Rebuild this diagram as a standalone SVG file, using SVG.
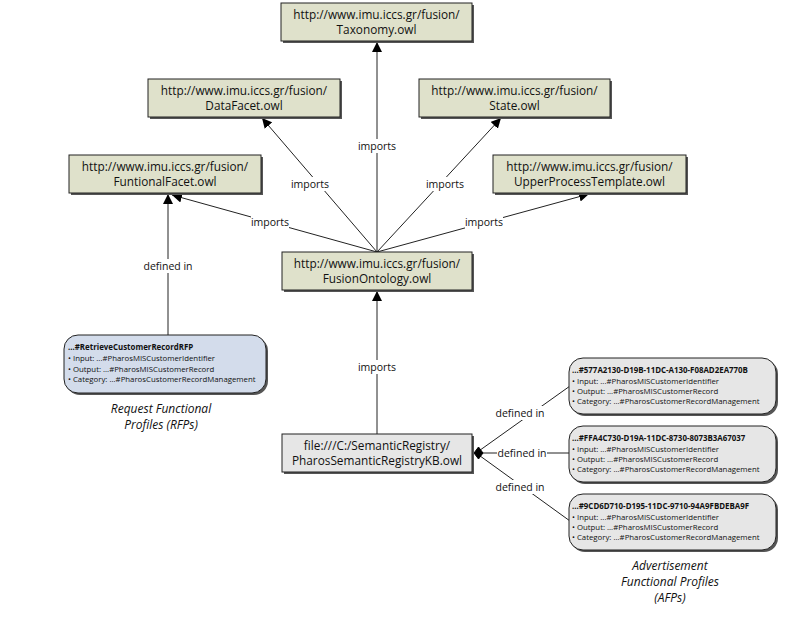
<svg xmlns="http://www.w3.org/2000/svg" width="786" height="617" viewBox="0 0 786 617">
<defs>
<style>
.bx{fill:#dfe1cb;stroke:#222;stroke-width:1}
.gx{fill:#e6e6e6;stroke:#222;stroke-width:1}
.sh{fill:#555}
.t{font-family:"Open Sans","Noto Sans",sans-serif;font-size:11.8px;fill:#111;text-anchor:middle}
.l{font-family:"Open Sans","Noto Sans",sans-serif;font-size:10.5px;fill:#111;text-anchor:middle}
.lb{fill:#fff}
.c{stroke:#222;stroke-width:1;fill:none}
.pt{font-family:"Open Sans","Noto Sans",sans-serif;font-size:7.9px;font-weight:bold;fill:#111}
.pi{font-family:"Open Sans","Noto Sans",sans-serif;font-size:7.8px;fill:#111}
.it{font-family:"Open Sans","Noto Sans",sans-serif;font-size:12px;font-style:italic;fill:#111;text-anchor:middle}
</style>
<marker id="ar" viewBox="0 0 10 10" refX="10" refY="5" markerWidth="10" markerHeight="10" markerUnits="userSpaceOnUse" orient="auto"><path d="M0,0 L10,5 L0,10 z" fill="#000"/></marker>
</defs>
<rect width="786" height="617" fill="#fff"/>
<g id="connectors">
<line class="c" x1="377" y1="252" x2="377" y2="42" marker-end="url(#ar)"/>
<line class="c" x1="377" y1="252" x2="262" y2="118" marker-end="url(#ar)"/>
<line class="c" x1="377" y1="252" x2="501" y2="118" marker-end="url(#ar)"/>
<line class="c" x1="377" y1="252" x2="172" y2="195" marker-end="url(#ar)"/>
<line class="c" x1="377" y1="252" x2="589" y2="194" marker-end="url(#ar)"/>
<line class="c" x1="377" y1="434" x2="377" y2="291" marker-end="url(#ar)"/>
<line class="c" x1="168" y1="335" x2="168" y2="194" marker-end="url(#ar)"/>
<line class="c" x1="476" y1="453" x2="570" y2="386"/>
<line class="c" x1="476" y1="453" x2="570" y2="453"/>
<line class="c" x1="476" y1="453" x2="570" y2="521"/>
<path d="M474,453 L478.5,447 L483,453 L478.5,459 z" fill="#000" stroke="#000"/>
<rect class="lb" x="358" y="139" width="38" height="14"/><text class="l" x="377" y="150">imports</text>
<rect class="lb" x="291" y="177" width="38" height="14"/><text class="l" x="310" y="188">imports</text>
<rect class="lb" x="426" y="177" width="38" height="14"/><text class="l" x="445" y="188">imports</text>
<rect class="lb" x="251" y="215" width="38" height="14"/><text class="l" x="270" y="226">imports</text>
<rect class="lb" x="465" y="215" width="38" height="14"/><text class="l" x="484" y="226">imports</text>
<rect class="lb" x="358" y="360" width="38" height="14"/><text class="l" x="377" y="371">imports</text>
<rect class="lb" x="143" y="259" width="50" height="14"/><text class="l" x="168" y="270">defined in</text>
<rect class="lb" x="495" y="406" width="50" height="14"/><text class="l" x="520" y="417">defined in</text>
<rect class="lb" x="497" y="446" width="50" height="14"/><text class="l" x="522" y="457">defined in</text>
<rect class="lb" x="495" y="480" width="50" height="14"/><text class="l" x="520" y="491">defined in</text>
</g>
<g id="taxonomy"><rect class="sh" x="283" y="5" width="191" height="38"/><rect class="bx" x="281" y="3" width="191" height="38"/><text class="t" x="376.5" y="19">http://www.imu.iccs.gr/fusion/</text><text class="t" x="376.5" y="34">Taxonomy.owl</text></g>
<g id="datafacet"><rect class="sh" x="150" y="81" width="192" height="38"/><rect class="bx" x="148" y="79" width="192" height="38"/><text class="t" x="244" y="95">http://www.imu.iccs.gr/fusion/</text><text class="t" x="244" y="110">DataFacet.owl</text></g>
<g id="state"><rect class="sh" x="421" y="81" width="191" height="38"/><rect class="bx" x="419" y="79" width="191" height="38"/><text class="t" x="514.5" y="95">http://www.imu.iccs.gr/fusion/</text><text class="t" x="514.5" y="110">State.owl</text></g>
<g id="functionalfacet"><rect class="sh" x="71" y="157" width="192" height="38"/><rect class="bx" x="69" y="155" width="192" height="38"/><text class="t" x="165" y="171">http://www.imu.iccs.gr/fusion/</text><text class="t" x="165" y="186">FuntionalFacet.owl</text></g>
<g id="upperprocess"><rect class="sh" x="495" y="157" width="193" height="38"/><rect class="bx" x="493" y="155" width="193" height="38"/><text class="t" x="589.5" y="171">http://www.imu.iccs.gr/fusion/</text><text class="t" x="589.5" y="186">UpperProcessTemplate.owl</text></g>
<g id="fusionontology"><rect class="sh" x="284" y="254" width="190" height="38"/><rect class="bx" x="282" y="252" width="190" height="38"/><text class="t" x="377" y="268">http://www.imu.iccs.gr/fusion/</text><text class="t" x="377" y="283">FusionOntology.owl</text></g>
<g id="pharoskb"><rect class="sh" x="284" y="436" width="190" height="38"/><rect class="gx" x="282" y="434" width="190" height="38"/><text class="t" x="377" y="450">file:///C:/SemanticRegistry/</text><text class="t" x="377" y="465">PharosSemanticRegistryKB.owl</text></g>
<g id="rfp"><rect class="sh" x="66" y="337" width="202" height="58" rx="14"/><rect x="64" y="335" width="202" height="58" rx="14" fill="#d3dceb" stroke="#222"/>
<text class="pt" x="68" y="350">...#RetrieveCustomerRecordRFP</text>
<text class="pi" x="68" y="361">•  Input: ...#PharosMISCustomerIdentifier</text>
<text class="pi" x="68" y="371.5">•  Output: ...#PharosMISCustomerRecord</text>
<text class="pi" x="68" y="382">•  Category: ...#PharosCustomerRecordManagement</text></g>
<g id="afp1"><rect class="sh" x="571" y="360" width="207" height="56" rx="14"/><rect x="569" y="358" width="207" height="56" rx="14" fill="#e6e6e6" stroke="#222"/>
<text class="pt" x="572" y="373">...#577A2130-D19B-11DC-A130-F08AD2EA770B</text>
<text class="pi" x="572" y="384">•  Input: ...#PharosMISCustomerIdentifier</text>
<text class="pi" x="572" y="394">•  Output: ...#PharosMISCustomerRecord</text>
<text class="pi" x="572" y="404">•  Category: ...#PharosCustomerRecordManagement</text></g>
<g id="afp2"><rect class="sh" x="571" y="428" width="207" height="56" rx="14"/><rect x="569" y="426" width="207" height="56" rx="14" fill="#e6e6e6" stroke="#222"/>
<text class="pt" x="572" y="441">...#FFA4C730-D19A-11DC-8730-8073B3A67037</text>
<text class="pi" x="572" y="452">•  Input: ...#PharosMISCustomerIdentifier</text>
<text class="pi" x="572" y="462">•  Output: ...#PharosMISCustomerRecord</text>
<text class="pi" x="572" y="472">•  Category: ...#PharosCustomerRecordManagement</text></g>
<g id="afp3"><rect class="sh" x="571" y="496" width="207" height="56" rx="14"/><rect x="569" y="494" width="207" height="56" rx="14" fill="#e6e6e6" stroke="#222"/>
<text class="pt" x="572" y="509">...#9CD6D710-D195-11DC-9710-94A9FBDEBA9F</text>
<text class="pi" x="572" y="520">•  Input: ...#PharosMISCustomerIdentifier</text>
<text class="pi" x="572" y="530">•  Output: ...#PharosMISCustomerRecord</text>
<text class="pi" x="572" y="540">•  Category: ...#PharosCustomerRecordManagement</text></g>
<g id="rfp-caption"><text class="it" x="161" y="413">Request Functional</text><text class="it" x="161" y="429">Profiles (RFPs)</text></g>
<g id="afp-caption"><text class="it" x="670" y="570">Advertisement</text><text class="it" x="670" y="586">Functional Profiles</text><text class="it" x="670" y="602">(AFPs)</text></g>
</svg>
